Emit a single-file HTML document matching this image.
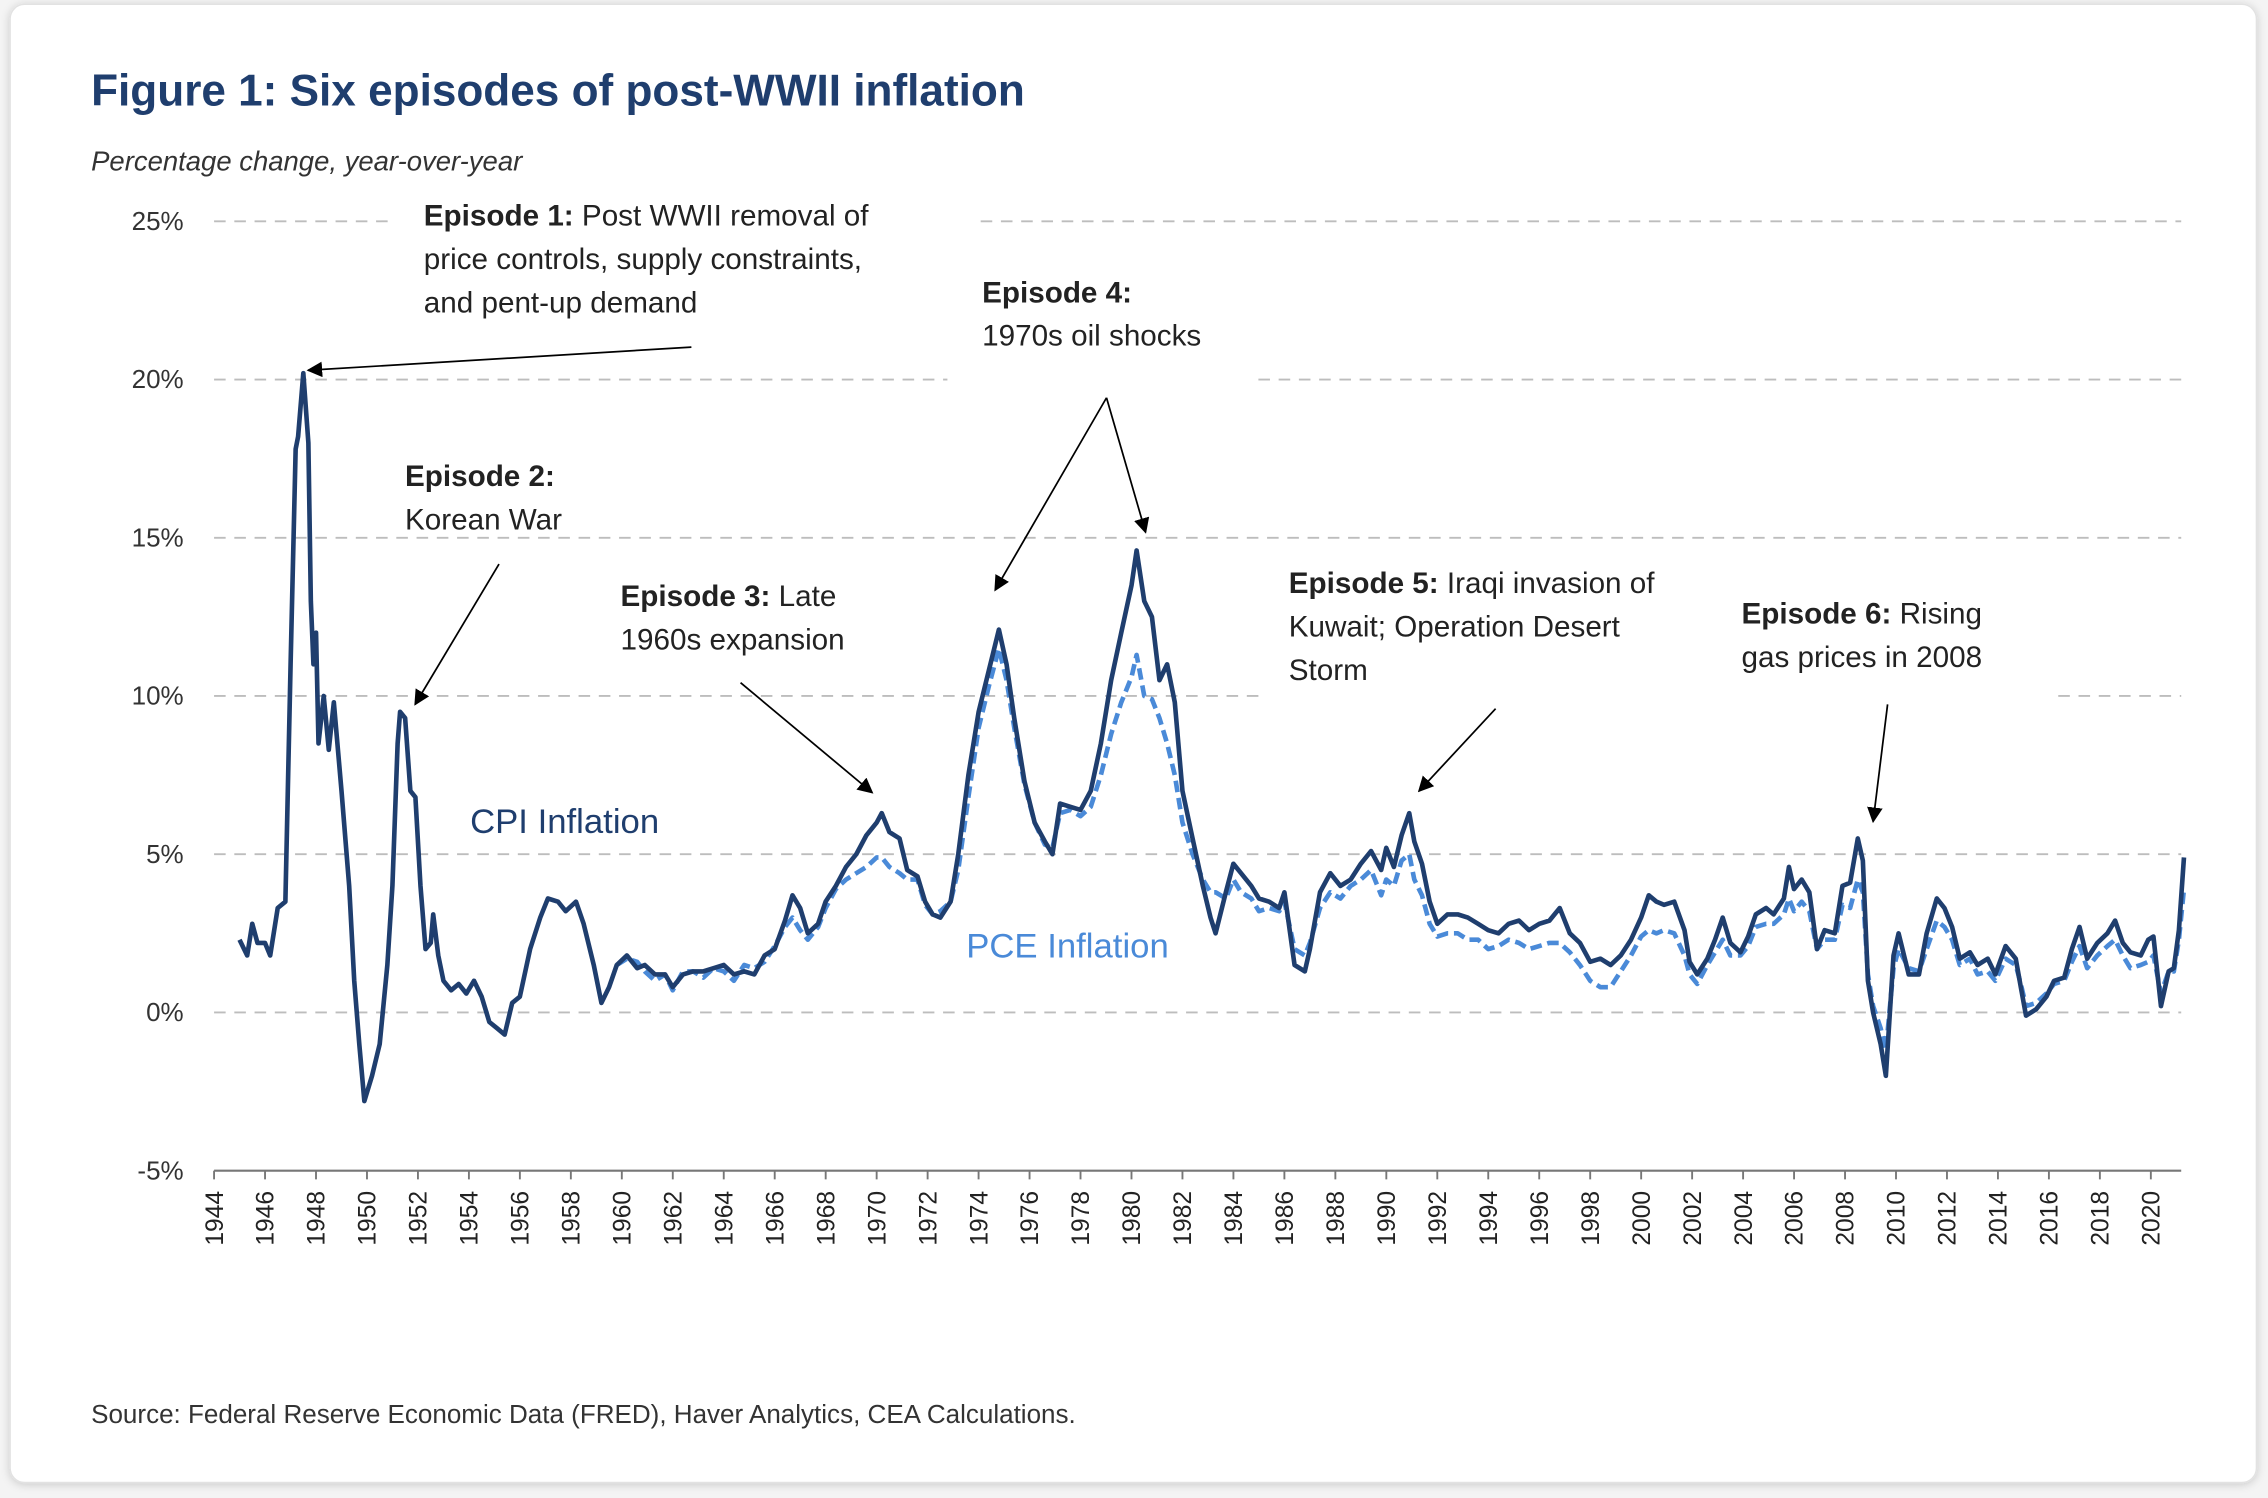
<!DOCTYPE html>
<html><head><meta charset="utf-8"><style>
html,body{margin:0;padding:0;background:#f4f4f4;}
svg{display:block;}
text{font-family:"Liberation Sans",sans-serif;}
</style></head><body>
<svg id="chart" width="2268" height="1498" viewBox="0 0 1568 1035.7" preserveAspectRatio="none" xmlns="http://www.w3.org/2000/svg">
<defs>
<marker id="ah" viewBox="0 0 10 10" refX="9" refY="5" markerWidth="9" markerHeight="9" orient="auto-start-reverse"><path d="M0,0 L10,5 L0,10 z" fill="#000"/></marker>
<filter id="sh" x="-5%" y="-5%" width="110%" height="110%"><feDropShadow dx="0" dy="1" stdDeviation="3" flood-color="#000" flood-opacity="0.18"/></filter>
</defs>
<rect x="7" y="3" width="1553" height="1022" rx="10" fill="#fff" stroke="#e2e2e2" filter="url(#sh)"/>
<text x="63" y="73" font-size="30.5" font-weight="bold" fill="#1f3e6e">Figure 1: Six episodes of post-WWII inflation</text>
<text x="63" y="118" font-size="19" font-style="italic" fill="#333">Percentage change, year-over-year</text>
<g id="grid"></g>
<g id="axes"></g>
<g id="series"></g>
<g>
<text x="325" y="576" font-size="24" fill="#1f3e6e">CPI Inflation</text>
<text x="668" y="662" font-size="24" fill="#4a8ad8">PCE Inflation</text>
</g>
<g font-size="20.5" fill="#222">
<text x="293" y="156"><tspan font-weight="bold">Episode 1:</tspan> Post WWII removal of<tspan x="293" dy="30">price controls, supply constraints,</tspan><tspan x="293" dy="30">and pent-up demand</tspan></text>
<text x="280" y="336"><tspan font-weight="bold">Episode 2:</tspan><tspan x="280" dy="30">Korean War</tspan></text>
<text x="429" y="419"><tspan font-weight="bold">Episode 3:</tspan> Late<tspan x="429" dy="30">1960s expansion</tspan></text>
<text x="679" y="209"><tspan font-weight="bold">Episode 4:</tspan><tspan x="679" dy="30">1970s oil shocks</tspan></text>
<text x="891" y="410"><tspan font-weight="bold">Episode 5:</tspan> Iraqi invasion of<tspan x="891" dy="30">Kuwait; Operation Desert</tspan><tspan x="891" dy="30">Storm</tspan></text>
<text x="1204" y="431"><tspan font-weight="bold">Episode 6:</tspan> Rising<tspan x="1204" dy="30">gas prices in 2008</tspan></text>
<g stroke="#000" stroke-width="1.2" fill="none">
<line x1="478" y1="240" x2="213" y2="256" marker-end="url(#ah)"/>
<line x1="345" y1="390" x2="287" y2="487" marker-end="url(#ah)"/>
<line x1="512" y1="472" x2="603" y2="548" marker-end="url(#ah)"/>
<line x1="765" y1="275" x2="688" y2="408" marker-end="url(#ah)"/>
<line x1="765" y1="275" x2="792" y2="368" marker-end="url(#ah)"/>
<line x1="1034" y1="490" x2="981" y2="547" marker-end="url(#ah)"/>
<line x1="1305" y1="487" x2="1295" y2="568" marker-end="url(#ah)"/>
</g>
</g>
<text x="63" y="984" font-size="18" fill="#333">Source: Federal Reserve Economic Data (FRED), Haver Analytics, CEA Calculations.</text>
</svg>
<script>
const yTicks=[25,20,15,10,5,0,-5];
const yTickLabels=["25%","20%","15%","10%","5%","0%","-5%"];
const xTickYears=[1944,1946,1948,1950,1952,1954,1956,1958,1960,1962,1964,1966,1968,1970,1972,1974,1976,1978,1980,1982,1984,1986,1988,1990,1992,1994,1996,1998,2000,2002,2004,2006,2008,2010,2012,2014,2016,2018,2020];
const cpiYears=[1945.0,1945.3,1945.5,1945.7,1946.0,1946.2,1946.5,1946.8,1947.0,1947.2,1947.3,1947.5,1947.7,1947.8,1947.9,1948.0,1948.1,1948.3,1948.5,1948.7,1949.0,1949.3,1949.5,1949.7,1949.9,1950.2,1950.5,1950.8,1951.0,1951.2,1951.3,1951.5,1951.7,1951.9,1952.1,1952.3,1952.5,1952.6,1952.8,1953.0,1953.3,1953.6,1953.9,1954.2,1954.5,1954.8,1955.1,1955.4,1955.7,1956.0,1956.4,1956.8,1957.1,1957.5,1957.8,1958.2,1958.5,1958.9,1959.2,1959.5,1959.8,1960.2,1960.6,1960.9,1961.3,1961.7,1962.0,1962.4,1962.8,1963.2,1963.6,1964.0,1964.4,1964.8,1965.2,1965.6,1966.0,1966.4,1966.7,1967.0,1967.3,1967.7,1968.0,1968.4,1968.8,1969.2,1969.6,1970.0,1970.2,1970.5,1970.9,1971.2,1971.6,1971.9,1972.2,1972.5,1972.9,1973.2,1973.6,1974.0,1974.4,1974.8,1975.1,1975.4,1975.8,1976.2,1976.6,1976.9,1977.2,1977.6,1978.0,1978.4,1978.8,1979.2,1979.6,1980.0,1980.2,1980.5,1980.8,1981.1,1981.4,1981.7,1982.0,1982.4,1982.8,1983.1,1983.3,1983.7,1984.0,1984.3,1984.7,1985.0,1985.4,1985.8,1986.0,1986.4,1986.8,1987.0,1987.4,1987.8,1988.2,1988.6,1989.0,1989.4,1989.8,1990.0,1990.3,1990.6,1990.9,1991.1,1991.4,1991.7,1992.0,1992.4,1992.8,1993.2,1993.6,1994.0,1994.4,1994.8,1995.2,1995.6,1996.0,1996.4,1996.8,1997.2,1997.6,1998.0,1998.4,1998.8,1999.2,1999.6,2000.0,2000.3,2000.6,2000.9,2001.3,2001.7,2001.9,2002.2,2002.6,2002.9,2003.2,2003.5,2003.9,2004.2,2004.5,2004.9,2005.2,2005.6,2005.8,2006.0,2006.3,2006.6,2006.9,2007.2,2007.6,2007.9,2008.2,2008.5,2008.7,2008.9,2009.1,2009.4,2009.6,2009.9,2010.1,2010.5,2010.9,2011.2,2011.6,2011.9,2012.2,2012.5,2012.9,2013.2,2013.6,2013.9,2014.3,2014.7,2014.9,2015.1,2015.5,2015.9,2016.2,2016.6,2016.9,2017.2,2017.5,2017.9,2018.3,2018.6,2018.9,2019.2,2019.6,2019.9,2020.1,2020.4,2020.7,2020.9,2021.1,2021.3];
const cpiValues=[2.3,1.8,2.8,2.2,2.2,1.8,3.3,3.5,11,17.8,18.2,20.2,18,13,11,12,8.5,10,8.3,9.8,7,4,1,-1,-2.8,-2,-1,1.5,4,8.5,9.5,9.3,7,6.8,4,2,2.2,3.1,1.8,1,0.7,0.9,0.6,1,0.5,-0.3,-0.5,-0.7,0.3,0.5,2,3,3.6,3.5,3.2,3.5,2.8,1.5,0.3,0.8,1.5,1.8,1.4,1.5,1.2,1.2,0.8,1.2,1.3,1.3,1.4,1.5,1.2,1.3,1.2,1.8,2,2.9,3.7,3.3,2.5,2.8,3.5,4,4.6,5.0,5.6,6.0,6.3,5.7,5.5,4.5,4.3,3.5,3.1,3.0,3.5,5.0,7.5,9.5,10.8,12.1,11,9.3,7.3,6.0,5.4,5.0,6.6,6.5,6.4,7.0,8.5,10.5,12.0,13.5,14.6,13,12.5,10.5,11,9.8,7,5.5,4.0,3.0,2.5,3.8,4.7,4.4,4.0,3.6,3.5,3.3,3.8,1.5,1.3,2.0,3.8,4.4,4.0,4.2,4.7,5.1,4.5,5.2,4.6,5.6,6.3,5.4,4.7,3.5,2.8,3.1,3.1,3.0,2.8,2.6,2.5,2.8,2.9,2.6,2.8,2.9,3.3,2.5,2.2,1.6,1.7,1.5,1.8,2.3,3.0,3.7,3.5,3.4,3.5,2.6,1.6,1.2,1.7,2.3,3.0,2.2,1.9,2.4,3.1,3.3,3.1,3.6,4.6,3.9,4.2,3.8,2.0,2.6,2.5,4.0,4.1,5.5,4.8,1.0,0,-1.0,-2.0,1.8,2.5,1.2,1.2,2.5,3.6,3.3,2.7,1.7,1.9,1.5,1.7,1.2,2.1,1.7,0.8,-0.1,0.1,0.5,1.0,1.1,2.0,2.7,1.7,2.2,2.5,2.9,2.2,1.9,1.8,2.3,2.4,0.2,1.3,1.4,2.6,4.9];
const pceYears=[1959.8,1960.2,1960.6,1960.9,1961.3,1961.7,1962.0,1962.4,1962.8,1963.2,1963.6,1964.0,1964.4,1964.8,1965.2,1965.6,1966.0,1966.4,1966.7,1967.0,1967.3,1967.7,1968.0,1968.4,1968.8,1969.2,1969.6,1970.0,1970.2,1970.5,1970.9,1971.2,1971.6,1971.9,1972.2,1972.5,1972.9,1973.2,1973.6,1974.0,1974.4,1974.8,1975.1,1975.4,1975.8,1976.2,1976.6,1976.9,1977.2,1977.6,1978.0,1978.4,1978.8,1979.2,1979.6,1980.0,1980.2,1980.5,1980.8,1981.1,1981.4,1981.7,1982.0,1982.4,1982.8,1983.1,1983.3,1983.7,1984.0,1984.3,1984.7,1985.0,1985.4,1985.8,1986.0,1986.4,1986.8,1987.0,1987.4,1987.8,1988.2,1988.6,1989.0,1989.4,1989.8,1990.0,1990.3,1990.6,1990.9,1991.1,1991.4,1991.7,1992.0,1992.4,1992.8,1993.2,1993.6,1994.0,1994.4,1994.8,1995.2,1995.6,1996.0,1996.4,1996.8,1997.2,1997.6,1998.0,1998.4,1998.8,1999.2,1999.6,2000.0,2000.3,2000.6,2000.9,2001.3,2001.7,2001.9,2002.2,2002.6,2002.9,2003.2,2003.5,2003.9,2004.2,2004.5,2004.9,2005.2,2005.6,2005.8,2006.0,2006.3,2006.6,2006.9,2007.2,2007.6,2007.9,2008.2,2008.5,2008.7,2008.9,2009.1,2009.4,2009.6,2009.9,2010.1,2010.5,2010.9,2011.2,2011.6,2011.9,2012.2,2012.5,2012.9,2013.2,2013.6,2013.9,2014.3,2014.7,2014.9,2015.1,2015.5,2015.9,2016.2,2016.6,2016.9,2017.2,2017.5,2017.9,2018.3,2018.6,2018.9,2019.2,2019.6,2019.9,2020.1,2020.4,2020.7,2020.9,2021.1,2021.3];
const pceValues=[1.5,1.7,1.6,1.3,1.0,1.2,0.7,1.3,1.3,1.1,1.4,1.3,1.0,1.5,1.4,1.6,2.1,2.7,3.0,2.6,2.3,2.7,3.3,3.9,4.2,4.4,4.6,4.9,4.9,4.6,4.4,4.2,4.2,3.4,3.1,3.2,3.5,4.5,6.8,9,10.3,11.5,10.5,9.0,7.2,6.0,5.3,5.2,6.3,6.4,6.2,6.5,7.5,8.8,9.8,10.6,11.3,10.0,9.9,9.3,8.5,7.5,6.0,5.0,4.2,3.8,3.8,3.6,4.2,3.8,3.6,3.2,3.3,3.2,3.5,2.0,1.8,2.2,3.3,3.8,3.6,4.0,4.2,4.5,3.7,4.2,4.0,4.8,5.0,4.2,3.7,2.8,2.4,2.5,2.5,2.3,2.3,2.0,2.1,2.3,2.2,2.0,2.1,2.2,2.2,1.9,1.5,1.0,0.8,0.8,1.3,1.8,2.4,2.6,2.5,2.6,2.5,1.8,1.2,0.9,1.5,1.9,2.3,1.8,1.8,2.1,2.7,2.8,2.8,3.1,3.6,3.2,3.5,3.2,2.0,2.3,2.3,3.4,3.3,4.2,3.8,1.2,0.2,-0.5,-1.2,1.4,2.0,1.4,1.3,2.0,2.9,2.7,2.3,1.5,1.7,1.2,1.3,1.0,1.7,1.5,0.9,0.2,0.3,0.6,0.9,1.0,1.6,2.1,1.4,1.8,2.1,2.3,1.8,1.4,1.5,1.6,1.8,0.6,1.3,1.3,2.3,3.9];

const NS="http://www.w3.org/2000/svg";
const xScale=yr=>148+(yr-1944)*(1487-148)/76;
const yScale=v=>700-v*(700-153)/25;
const AX_R=1508;
function mk(tag,attrs,parent){const e=document.createElementNS(NS,tag);for(const k in attrs)e.setAttribute(k,attrs[k]);parent.appendChild(e);return e;}
const grid=document.getElementById('grid'),axes=document.getElementById('axes'),series=document.getElementById('series');
const gaps={25:[[270,678]],20:[[655,870]],10:[[873,1423]]};
yTicks.forEach((v,i)=>{
  const y=yScale(v);
  if(v>-5){
    let segs=[[148,AX_R]];
    (gaps[v]||[]).forEach(g=>{const out=[];segs.forEach(s=>{if(g[0]>s[0])out.push([s[0],Math.min(g[0],s[1])]);if(g[1]<s[1])out.push([Math.max(g[1],s[0]),s[1]]);});segs=out;});
    segs.forEach(s=>{
      const l=mk('line',{x1:s[0],x2:s[1],y1:y,y2:y,stroke:'#bdbdbd','stroke-width':1.3,'stroke-dasharray':'8 6'},grid);
      
      
    });
  }
  const t=mk('text',{x:127,y:y+6,'text-anchor':'end','font-size':18,fill:'#333'},axes);
  t.textContent=yTickLabels[i];
  
  
});
const xa=mk('line',{x1:148,x2:AX_R,y1:yScale(-5),y2:yScale(-5),stroke:'#777','stroke-width':1.5},axes);


xTickYears.forEach(yr=>{
  const x=xScale(yr),y0=yScale(-5);
  const tk=mk('line',{x1:x,x2:x,y1:y0,y2:y0+6,stroke:'#777','stroke-width':1.3},axes);
  
  
  const t=mk('text',{x:0,y:0,transform:`translate(${x+6},${y0+14}) rotate(-90)`,'text-anchor':'end','font-size':17,fill:'#222'},axes);
  t.textContent=yr;
  
  
});
function pathD(xs,vs){return xs.map((yr,i)=>(i?'L':'M')+xScale(yr).toFixed(1)+','+yScale(vs[i]).toFixed(1)).join(' ');}
const pce=mk('path',{d:pathD(pceYears,pceValues),fill:'none',stroke:'#4a8ad8','stroke-width':3.2,'stroke-dasharray':'8 4','stroke-linejoin':'round'},series);


const cpi=mk('path',{d:pathD(cpiYears,cpiValues),fill:'none',stroke:'#1f3e6e','stroke-width':3.2,'stroke-linejoin':'round'},series);


</script>
</body></html>
